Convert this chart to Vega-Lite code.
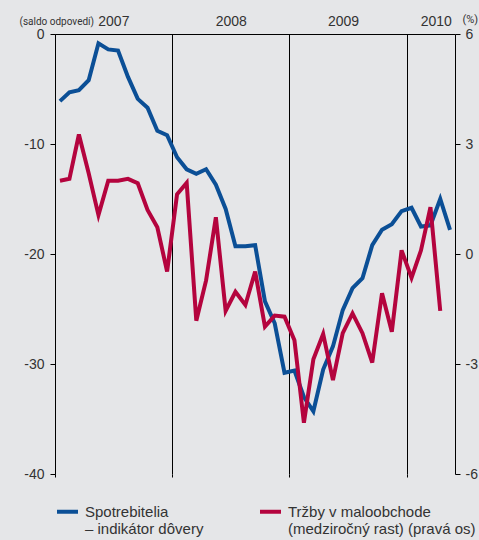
{
  "$schema": "https://vega.github.io/schema/vega-lite/v6.json",
  "width": 400,
  "height": 440,
  "autosize": {"type": "none"},
  "padding": {"left": 55, "top": 34, "right": 24, "bottom": 66},
  "background": "#e5e6e8",
  "config": {
    "view": {"stroke": null},
    "font": "Liberation Sans",
    "axis": {"labelColor": "#333333", "titleColor": "#333333", "domainColor": "#000000", "tickColor": "#000000", "labelFlush": false, "labelOverlap": false}
  },
  "data": {
    "values": [
      {"date": "2007-01-01", "series": "Spotrebitelia – indikátor dôvery", "value": -6.1},
      {"date": "2007-02-01", "series": "Spotrebitelia – indikátor dôvery", "value": -5.3},
      {"date": "2007-03-01", "series": "Spotrebitelia – indikátor dôvery", "value": -5.1},
      {"date": "2007-04-01", "series": "Spotrebitelia – indikátor dôvery", "value": -4.2},
      {"date": "2007-05-01", "series": "Spotrebitelia – indikátor dôvery", "value": -0.85},
      {"date": "2007-06-01", "series": "Spotrebitelia – indikátor dôvery", "value": -1.4},
      {"date": "2007-07-01", "series": "Spotrebitelia – indikátor dôvery", "value": -1.5},
      {"date": "2007-08-01", "series": "Spotrebitelia – indikátor dôvery", "value": -3.9},
      {"date": "2007-09-01", "series": "Spotrebitelia – indikátor dôvery", "value": -5.9},
      {"date": "2007-10-01", "series": "Spotrebitelia – indikátor dôvery", "value": -6.7},
      {"date": "2007-11-01", "series": "Spotrebitelia – indikátor dôvery", "value": -8.8},
      {"date": "2007-12-01", "series": "Spotrebitelia – indikátor dôvery", "value": -9.2},
      {"date": "2008-01-01", "series": "Spotrebitelia – indikátor dôvery", "value": -11.2},
      {"date": "2008-02-01", "series": "Spotrebitelia – indikátor dôvery", "value": -12.3},
      {"date": "2008-03-01", "series": "Spotrebitelia – indikátor dôvery", "value": -12.7},
      {"date": "2008-04-01", "series": "Spotrebitelia – indikátor dôvery", "value": -12.3},
      {"date": "2008-05-01", "series": "Spotrebitelia – indikátor dôvery", "value": -13.7},
      {"date": "2008-06-01", "series": "Spotrebitelia – indikátor dôvery", "value": -15.9},
      {"date": "2008-07-01", "series": "Spotrebitelia – indikátor dôvery", "value": -19.3},
      {"date": "2008-08-01", "series": "Spotrebitelia – indikátor dôvery", "value": -19.3},
      {"date": "2008-09-01", "series": "Spotrebitelia – indikátor dôvery", "value": -19.2},
      {"date": "2008-10-01", "series": "Spotrebitelia – indikátor dôvery", "value": -24.3},
      {"date": "2008-11-01", "series": "Spotrebitelia – indikátor dôvery", "value": -26.3},
      {"date": "2008-12-01", "series": "Spotrebitelia – indikátor dôvery", "value": -30.8},
      {"date": "2009-01-01", "series": "Spotrebitelia – indikátor dôvery", "value": -30.6},
      {"date": "2009-02-01", "series": "Spotrebitelia – indikátor dôvery", "value": -33.0},
      {"date": "2009-03-01", "series": "Spotrebitelia – indikátor dôvery", "value": -34.3},
      {"date": "2009-04-01", "series": "Spotrebitelia – indikátor dôvery", "value": -30.5},
      {"date": "2009-05-01", "series": "Spotrebitelia – indikátor dôvery", "value": -28.4},
      {"date": "2009-06-01", "series": "Spotrebitelia – indikátor dôvery", "value": -25.1},
      {"date": "2009-07-01", "series": "Spotrebitelia – indikátor dôvery", "value": -23.1},
      {"date": "2009-08-01", "series": "Spotrebitelia – indikátor dôvery", "value": -22.2},
      {"date": "2009-09-01", "series": "Spotrebitelia – indikátor dôvery", "value": -19.2},
      {"date": "2009-10-01", "series": "Spotrebitelia – indikátor dôvery", "value": -17.8},
      {"date": "2009-11-01", "series": "Spotrebitelia – indikátor dôvery", "value": -17.3},
      {"date": "2009-12-01", "series": "Spotrebitelia – indikátor dôvery", "value": -16.1},
      {"date": "2010-01-01", "series": "Spotrebitelia – indikátor dôvery", "value": -15.8},
      {"date": "2010-02-01", "series": "Spotrebitelia – indikátor dôvery", "value": -17.5},
      {"date": "2010-03-01", "series": "Spotrebitelia – indikátor dôvery", "value": -17.4},
      {"date": "2010-04-01", "series": "Spotrebitelia – indikátor dôvery", "value": -15.0},
      {"date": "2010-05-01", "series": "Spotrebitelia – indikátor dôvery", "value": -17.8},
      {"date": "2007-01-01", "series": "Tržby v maloobchode (medziročný rast) (pravá os)", "value": 2.0},
      {"date": "2007-02-01", "series": "Tržby v maloobchode (medziročný rast) (pravá os)", "value": 2.05},
      {"date": "2007-03-01", "series": "Tržby v maloobchode (medziročný rast) (pravá os)", "value": 3.26},
      {"date": "2007-04-01", "series": "Tržby v maloobchode (medziročný rast) (pravá os)", "value": 2.2},
      {"date": "2007-05-01", "series": "Tržby v maloobchode (medziročný rast) (pravá os)", "value": 1.06},
      {"date": "2007-06-01", "series": "Tržby v maloobchode (medziročný rast) (pravá os)", "value": 2.0},
      {"date": "2007-07-01", "series": "Tržby v maloobchode (medziročný rast) (pravá os)", "value": 2.0},
      {"date": "2007-08-01", "series": "Tržby v maloobchode (medziročný rast) (pravá os)", "value": 2.05},
      {"date": "2007-09-01", "series": "Tržby v maloobchode (medziročný rast) (pravá os)", "value": 1.93},
      {"date": "2007-10-01", "series": "Tržby v maloobchode (medziročný rast) (pravá os)", "value": 1.2},
      {"date": "2007-11-01", "series": "Tržby v maloobchode (medziročný rast) (pravá os)", "value": 0.73},
      {"date": "2007-12-01", "series": "Tržby v maloobchode (medziročný rast) (pravá os)", "value": -0.48},
      {"date": "2008-01-01", "series": "Tržby v maloobchode (medziročný rast) (pravá os)", "value": 1.63},
      {"date": "2008-02-01", "series": "Tržby v maloobchode (medziročný rast) (pravá os)", "value": 1.94},
      {"date": "2008-03-01", "series": "Tržby v maloobchode (medziročný rast) (pravá os)", "value": -1.82},
      {"date": "2008-04-01", "series": "Tržby v maloobchode (medziročný rast) (pravá os)", "value": -0.72},
      {"date": "2008-05-01", "series": "Tržby v maloobchode (medziročný rast) (pravá os)", "value": 1.0},
      {"date": "2008-06-01", "series": "Tržby v maloobchode (medziročný rast) (pravá os)", "value": -1.55},
      {"date": "2008-07-01", "series": "Tržby v maloobchode (medziročný rast) (pravá os)", "value": -1.03},
      {"date": "2008-08-01", "series": "Tržby v maloobchode (medziročný rast) (pravá os)", "value": -1.39},
      {"date": "2008-09-01", "series": "Tržby v maloobchode (medziročný rast) (pravá os)", "value": -0.48},
      {"date": "2008-10-01", "series": "Tržby v maloobchode (medziročný rast) (pravá os)", "value": -1.98},
      {"date": "2008-11-01", "series": "Tržby v maloobchode (medziročný rast) (pravá os)", "value": -1.68},
      {"date": "2008-12-01", "series": "Tržby v maloobchode (medziročný rast) (pravá os)", "value": -1.71},
      {"date": "2009-01-01", "series": "Tržby v maloobchode (medziročný rast) (pravá os)", "value": -2.35},
      {"date": "2009-02-01", "series": "Tržby v maloobchode (medziročný rast) (pravá os)", "value": -4.6},
      {"date": "2009-03-01", "series": "Tržby v maloobchode (medziročný rast) (pravá os)", "value": -2.87},
      {"date": "2009-04-01", "series": "Tržby v maloobchode (medziročný rast) (pravá os)", "value": -2.18},
      {"date": "2009-05-01", "series": "Tržby v maloobchode (medziročný rast) (pravá os)", "value": -3.44},
      {"date": "2009-06-01", "series": "Tržby v maloobchode (medziročný rast) (pravá os)", "value": -2.16},
      {"date": "2009-07-01", "series": "Tržby v maloobchode (medziročný rast) (pravá os)", "value": -1.62},
      {"date": "2009-08-01", "series": "Tržby v maloobchode (medziročný rast) (pravá os)", "value": -2.16},
      {"date": "2009-09-01", "series": "Tržby v maloobchode (medziročný rast) (pravá os)", "value": -2.96},
      {"date": "2009-10-01", "series": "Tržby v maloobchode (medziročný rast) (pravá os)", "value": -1.07},
      {"date": "2009-11-01", "series": "Tržby v maloobchode (medziročný rast) (pravá os)", "value": -2.12},
      {"date": "2009-12-01", "series": "Tržby v maloobchode (medziročný rast) (pravá os)", "value": 0.1},
      {"date": "2010-01-01", "series": "Tržby v maloobchode (medziročný rast) (pravá os)", "value": -0.65},
      {"date": "2010-02-01", "series": "Tržby v maloobchode (medziročný rast) (pravá os)", "value": 0.1},
      {"date": "2010-03-01", "series": "Tržby v maloobchode (medziročný rast) (pravá os)", "value": 1.28},
      {"date": "2010-04-01", "series": "Tržby v maloobchode (medziročný rast) (pravá os)", "value": -1.55}
    ]
  },
  "layer": [
    {
      "transform": [{"filter": "datum.series == 'Spotrebitelia – indikátor dôvery'"}],
      "mark": {"type": "line", "strokeWidth": 4},
      "encoding": {
        "x": {
          "field": "date", "type": "temporal", "timeUnit": "utcyearmonth", "bandPosition": 0.5,
          "scale": {"domain": [{"year": 2007, "month": 1, "date": 1, "utc": true}, {"year": 2010, "month": 6, "date": 1, "utc": true}]},
          "axis": {
            "orient": "top", "title": null, "labelExpr": "utcFormat(datum.value, '%Y')",
            "values": [
              {"year": 2007, "month": 7, "date": 2, "utc": true},
              {"year": 2008, "month": 7, "date": 2, "utc": true},
              {"year": 2009, "month": 6, "date": 17, "utc": true},
              {"year": 2010, "month": 4, "date": 2, "utc": true}
            ],
            "ticks": false, "grid": false, "domain": true, "domainWidth": 1,
            "labelFontSize": 14, "labelPadding": 6
          }
        },
        "y": {
          "field": "value", "type": "quantitative",
          "scale": {"domain": [-40, 0], "nice": false, "zero": false},
          "axis": {
            "orient": "left", "values": [0, -10, -20, -30, -40], "grid": false,
            "labelExpr": "datum.value < 0 ? '-' + abs(datum.value) : '' + datum.value",
            "tickSize": 5, "labelFontSize": 14, "labelPadding": 6,
            "title": "(saldo odpovedí)", "titleAngle": 0, "titleAlign": "left", "titleBaseline": "alphabetic",
            "titleX": -36, "titleY": -10, "titleFont": "Roboto", "titleFontSize": 10, "titleFontWeight": "normal"
          }
        },
        "color": {
          "field": "series", "type": "nominal",
          "scale": {"domain": ["Spotrebitelia – indikátor dôvery", "Tržby v maloobchode (medziročný rast) (pravá os)"], "range": ["#0b4f96", "#b4043e"]},
          "legend": {
            "title": null, "orient": "none", "legendX": 0, "legendY": 465, "direction": "horizontal",
            "symbolType": "stroke", "symbolSize": 441, "symbolStrokeWidth": 4,
            "labelFontSize": 15, "labelLimit": 300, "labelOffset": 5, "columnPadding": 48, "labelColor": "#333333",
            "labelBaseline": "middle",
            "labelExpr": "datum.value == 'Spotrebitelia – indikátor dôvery' ? ['Spotrebitelia', '– indikátor dôvery'] : ['Tržby v maloobchode', '(medziročný rast) (pravá os)']"
          }
        }
      }
    },
    {
      "transform": [{"filter": "datum.series != 'Spotrebitelia – indikátor dôvery'"}],
      "mark": {"type": "line", "strokeWidth": 4},
      "encoding": {
        "x": {
          "field": "date", "type": "temporal", "timeUnit": "utcyearmonth", "bandPosition": 0.5,
          "axis": {
            "orient": "bottom", "title": null, "labels": false, "domain": false,
            "values": [
              {"year": 2007, "month": 1, "date": 1, "utc": true},
              {"year": 2008, "month": 1, "date": 1, "utc": true},
              {"year": 2009, "month": 1, "date": 1, "utc": true},
              {"year": 2010, "month": 1, "date": 1, "utc": true}
            ],
            "grid": true, "gridColor": "#000000", "gridOpacity": 1, "gridWidth": 1,
            "ticks": true, "tickSize": 3
          }
        },
        "y": {
          "field": "value", "type": "quantitative",
          "scale": {"domain": [-6, 6], "nice": false, "zero": false},
          "axis": {
            "orient": "right", "values": [6, 3, 0, -3, -6], "grid": false,
            "labelExpr": "datum.value < 0 ? '-' + abs(datum.value) : '' + datum.value",
            "tickSize": 5, "labelFontSize": 14, "labelPadding": 5,
            "title": "(%)", "titleAngle": 0, "titleAlign": "left", "titleBaseline": "alphabetic",
            "titleX": 7, "titleY": -12, "titleFont": "Roboto", "titleFontSize": 11, "titleFontWeight": "normal"
          }
        },
        "color": {"field": "series", "type": "nominal"}
      }
    }
  ],
  "resolve": {"scale": {"y": "independent"}, "axis": {"x": "independent", "y": "independent"}}
}
